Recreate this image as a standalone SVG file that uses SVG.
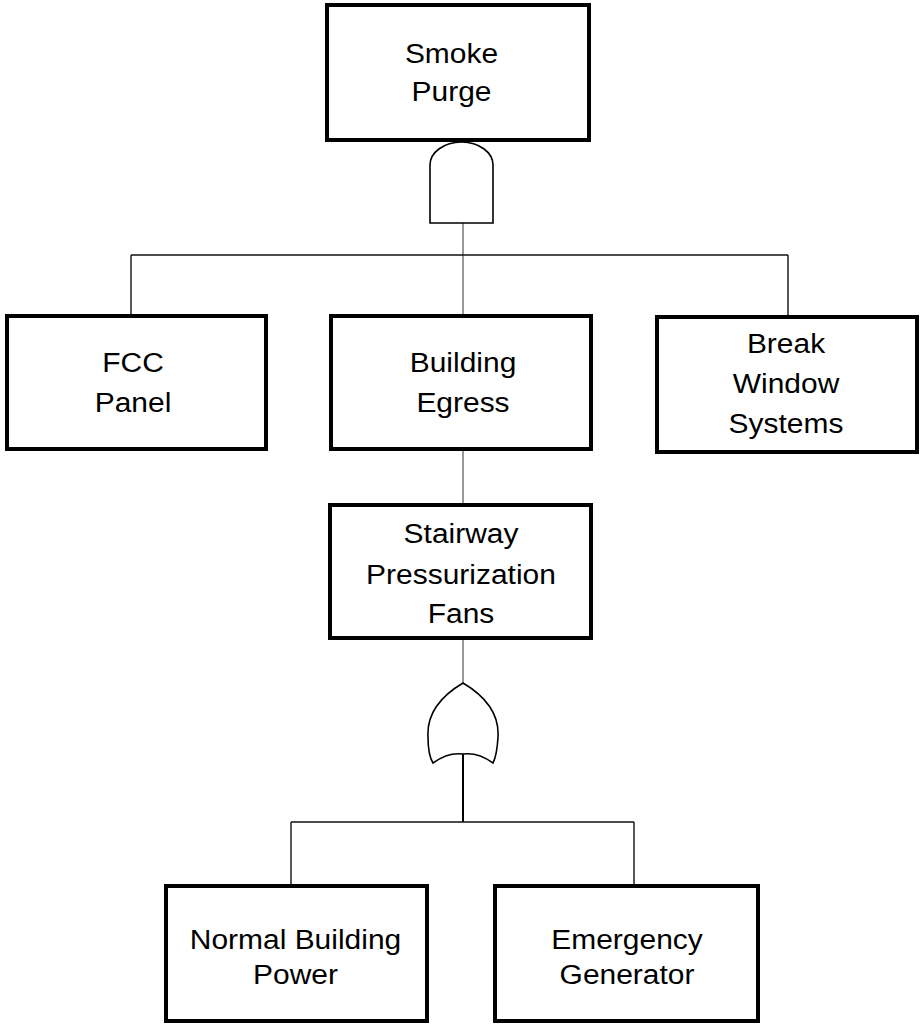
<svg xmlns="http://www.w3.org/2000/svg" width="922" height="1026" viewBox="0 0 922 1026">
<style>
.box{fill:#fff;stroke:#000;stroke-width:4}
.gate{fill:#fff;stroke:#000;stroke-width:1.6}
.t{font-family:"Liberation Sans",Arial,sans-serif;font-size:28px;fill:#000;text-anchor:middle}
.thin{stroke:#555;stroke-width:1.2;fill:none}
.dark{stroke:#111;stroke-width:1.4;fill:none}
.thick{stroke:#000;stroke-width:2;fill:none}
</style>
<rect width="922" height="1026" fill="#fff"/>
<g id="connectors">
<line class="thin" x1="463" y1="223" x2="463" y2="316"/>
<line class="dark" x1="131" y1="255" x2="788" y2="255"/>
<line class="dark" x1="131" y1="255" x2="131" y2="316"/>
<line class="dark" x1="788" y1="255" x2="788" y2="317"/>
<line class="thin" x1="463" y1="450" x2="463" y2="505"/>
<line class="thin" x1="463" y1="639" x2="463" y2="683"/>
<line class="thick" x1="463" y1="754" x2="463" y2="822"/>
<line class="dark" x1="291" y1="822" x2="634" y2="822"/>
<line class="dark" x1="291" y1="822" x2="291" y2="886"/>
<line class="dark" x1="634" y1="822" x2="634" y2="886"/>
</g>
<g id="smoke-purge">
<rect class="box" x="327" y="5" width="262" height="135"/>
<text class="t" transform="translate(451.5,63) scale(1.07,1)">Smoke</text>
<text class="t" transform="translate(451.5,101) scale(1.07,1)">Purge</text>
</g>
<g id="and-gate">
<path class="gate" d="M430,223 V165 A31.5,23 0 0 1 493,165 V223 Z"/>
</g>
<g id="fcc-panel">
<rect class="box" x="7" y="316" width="259" height="133"/>
<text class="t" transform="translate(133,372) scale(1.07,1)">FCC</text>
<text class="t" transform="translate(133,412) scale(1.07,1)">Panel</text>
</g>
<g id="building-egress">
<rect class="box" x="331" y="316" width="260" height="133"/>
<text class="t" transform="translate(463,372) scale(1.07,1)">Building</text>
<text class="t" transform="translate(463,412) scale(1.07,1)">Egress</text>
</g>
<g id="break-window-systems">
<rect class="box" x="657" y="317" width="260" height="135"/>
<text class="t" transform="translate(786,353) scale(1.07,1)">Break</text>
<text class="t" transform="translate(786,393) scale(1.07,1)">Window</text>
<text class="t" transform="translate(786,433) scale(1.07,1)">Systems</text>
</g>
<g id="stairway-fans">
<rect class="box" x="330" y="505" width="261" height="133"/>
<text class="t" transform="translate(461,543) scale(1.07,1)">Stairway</text>
<text class="t" transform="translate(461,584) scale(1.07,1)">Pressurization</text>
<text class="t" transform="translate(461,623) scale(1.07,1)">Fans</text>
</g>
<g id="or-gate">
<path class="gate" d="M463,683 Q500,705 498,737 Q497,755 493,763 Q478,752 463,754 Q448,752 433,763 Q428,755 428,737 Q426,705 463,683 Z"/>
</g>
<g id="normal-power">
<rect class="box" x="166" y="886" width="261" height="135"/>
<text class="t" transform="translate(295.5,949) scale(1.07,1)">Normal Building</text>
<text class="t" transform="translate(295.5,984) scale(1.07,1)">Power</text>
</g>
<g id="emergency-generator">
<rect class="box" x="495" y="886" width="263" height="135"/>
<text class="t" transform="translate(627,949) scale(1.07,1)">Emergency</text>
<text class="t" transform="translate(627,984) scale(1.07,1)">Generator</text>
</g>
</svg>
